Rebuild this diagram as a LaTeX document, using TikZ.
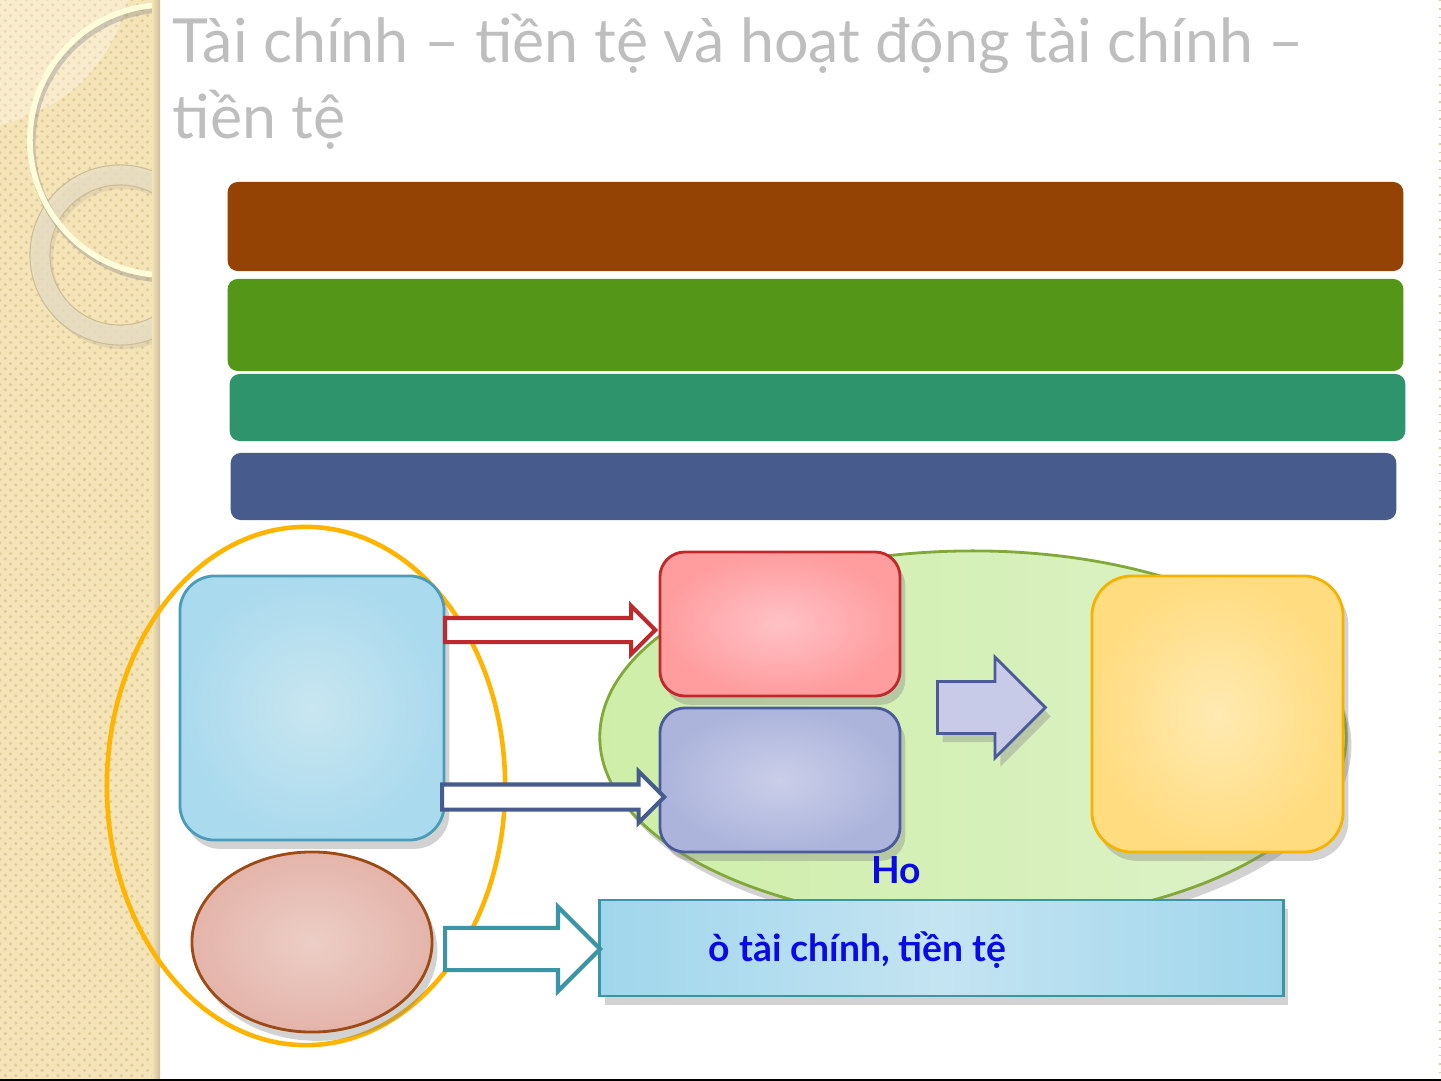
\documentclass[tikz,border=0pt]{standalone}
\usepackage{fontspec}
\setmainfont{Lato}
\usepackage{tikz}
\usetikzlibrary{positioning,shapes.geometric,shapes.arrows,shadows,patterns}

\definecolor{stripbeige}{RGB}{245,228,184}
\definecolor{stripdot}{RGB}{226,204,150}
\definecolor{stripedge}{RGB}{205,188,150}
\definecolor{ringtan}{RGB}{232,222,196}
\definecolor{titlegray}{RGB}{190,190,190}
\definecolor{barbrown}{RGB}{149,67,5}
\definecolor{bargreen}{RGB}{84,150,23}
\definecolor{barteal}{RGB}{46,148,108}
\definecolor{barnavy}{RGB}{71,91,141}
\definecolor{ringgold}{RGB}{255,180,0}
\definecolor{skyline}{RGB}{74,156,184}
\definecolor{skyout}{RGB}{170,218,238}
\definecolor{skyin}{RGB}{200,230,240}
\definecolor{roseline}{RGB}{158,74,20}
\definecolor{roseout}{RGB}{228,180,170}
\definecolor{rosein}{RGB}{236,206,198}
\definecolor{ovalline}{RGB}{130,168,58}
\definecolor{ovalleft}{RGB}{206,238,168}
\definecolor{ovalright}{RGB}{222,242,202}
\definecolor{redline}{RGB}{192,40,44}
\definecolor{redout}{RGB}{255,156,158}
\definecolor{redin}{RGB}{255,194,198}
\definecolor{lilacline}{RGB}{74,90,154}
\definecolor{lilacout}{RGB}{172,180,220}
\definecolor{lilacin}{RGB}{202,206,232}
\definecolor{yellowline}{RGB}{245,178,0}
\definecolor{yellowout}{RGB}{255,220,128}
\definecolor{yellowin}{RGB}{255,234,178}
\definecolor{tealline}{RGB}{58,150,166}
\definecolor{barblue}{RGB}{160,214,236}
\definecolor{barlight}{RGB}{196,228,242}
\definecolor{textblue}{RGB}{10,10,230}

\begin{document}
\begin{tikzpicture}[x=0.01cm, y=-0.01cm,
  bar/.style={rounded corners=0.1cm, inner sep=0pt},
  box/.style={draw, line width=0.8pt, inner sep=0pt,
    drop shadow={opacity=.35, shadow xshift=1.5pt, shadow yshift=-2.5pt}},
  hollow/.style={single arrow, draw, fill=white, line width=1.2pt, anchor=west,
    single arrow head indent=0pt, inner xsep=0pt},
  bluetext/.style={text=textblue, font=\bfseries\fontsize{10.6}{12}\selectfont, inner sep=0pt}]
\useasboundingbox (0,0) rectangle (1441,1081);
\fill[white] (0,0) rectangle (1441,1081);

% left strip
\fill[stripbeige] (0,0) rectangle (160,1081);
\fill[pattern=crosshatch dots, pattern color=stripdot] (0,0) rectangle (152,1081);
\fill[white, opacity=.3] (0,0) -- (128,0) to[bend left=30] (0,125) -- cycle;
\begin{scope}
\clip (0,0) rectangle (158,1081);
\draw[line width=0.2cm, gray, opacity=.15] (123,259) circle (0.8cm);
\draw[line width=0.2cm, ringtan, opacity=.8] (120,255) circle (0.8cm);
\draw[line width=0.3pt, stripedge] (120,255) circle (0.9cm) (120,255) circle (0.7cm);
\draw[line width=2pt, gray, opacity=.35] (167,144) circle (1.35cm);
\draw[line width=1.6pt, white!85!yellow] (165,140) circle (1.35cm);
\end{scope}
\shade[left color=stripbeige, right color=stripedge] (152,0) rectangle (160,1081);

% title
\node[anchor=base west, inner sep=0pt, text=titlegray, font=\fontsize{17.3}{21}\selectfont] (titleone) at (172,62) {Tài chính – tiền tệ và hoạt động tài chính –};
\node[anchor=base west, inner sep=0pt, text=titlegray, font=\fontsize{17.3}{21}\selectfont] (titletwo) at (172,138) {tiền tệ};

% coloured bars
\node[bar, fill=barbrown, minimum width=11.75cm, minimum height=0.89cm] (barone) at (815.5,226.5) {};
\node[bar, fill=bargreen, minimum width=11.75cm, minimum height=0.92cm] (bartwo) at (815.5,325) {};
\node[bar, fill=barteal, minimum width=11.75cm, minimum height=0.67cm] (barthree) at (817.5,407.5) {};
\node[bar, fill=barnavy, minimum width=11.65cm, minimum height=0.67cm] (barfour) at (813.5,486.5) {};

% left group
\node[ellipse, draw=ringgold, line width=1.3pt, minimum width=3.98cm, minimum height=5.18cm, inner sep=0pt] (goldring) at (306,786) {};
\node[box, draw=skyline, rounded corners=0.35cm, inner color=skyin, outer color=skyout, minimum width=2.64cm, minimum height=2.64cm] (skybox) at (312,708) {};
\node[box, ellipse, draw=roseline, inner color=rosein, outer color=roseout, minimum width=2.4cm, minimum height=1.8cm] (roseoval) at (312,942) {};

% right group
\node[box, ellipse, draw=ovalline, left color=ovalleft, right color=ovalright, minimum width=7.46cm, minimum height=3.72cm] (greenoval) at (973,737) {};
\node[box, draw=redline, rounded corners=0.25cm, inner color=redin, outer color=redout, minimum width=2.4cm, minimum height=1.44cm] (redbox) at (780,624) {};
\node[box, draw=lilacline, rounded corners=0.25cm, inner color=lilacin, outer color=lilacout, minimum width=2.4cm, minimum height=1.44cm] (lilacbox) at (780,780) {};
\node[box, single arrow, draw=lilacline, fill=lilacin!90!lilacout, anchor=west, single arrow head indent=0pt, inner xsep=0pt, inner ysep=0.245cm, single arrow head extend=0.245cm, minimum height=1.08cm] (bigarrow) at (936,707.5) {};
\node[box, draw=yellowline, rounded corners=0.4cm, inner color=yellowin, outer color=yellowout, minimum width=2.51cm, minimum height=2.76cm] (yellowbox) at (1217.5,714) {};
\node[box, draw=tealline, rectangle, left color=barblue, right color=barblue, middle color=barlight, minimum width=6.83cm, minimum height=0.96cm] (marketbar) at (941.5,948) {};

% hollow arrows
\node[hollow, draw=redline, inner ysep=0.1cm, single arrow head extend=0.12cm, minimum height=2.1cm] (redarrow) at (443,630) {};
\node[hollow, draw=barnavy, inner ysep=0.105cm, single arrow head extend=0.13cm, minimum height=2.22cm] (navyarrow) at (440,797) {};
\node[hollow, draw=tealline, inner ysep=0.19cm, single arrow head extend=0.21cm, minimum height=1.55cm] (tealarrow) at (443,949) {};

% labels
\node[bluetext] (holabel) at (896,870) {Ho};
\node[bluetext, anchor=west] (marketlabel) at (708,950) {ò tài chính, tiền tệ};

% frame lines
\draw[line width=0.6pt] (0,1080) -- (1441,1080);
\draw[stripdot, dotted] (1440,0) -- (1440,1078);
\end{tikzpicture}
\end{document}
